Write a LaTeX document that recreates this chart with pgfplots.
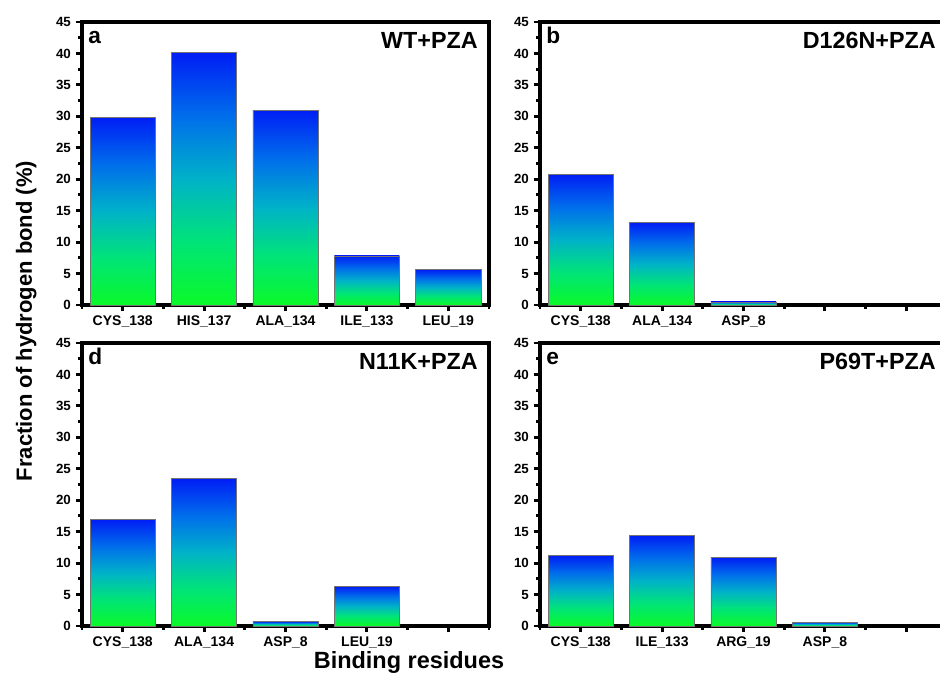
\documentclass[border=0pt]{standalone}
\usepackage{fontspec}
\setmainfont{Liberation Sans}
\usepackage{pgfplots}
\pgfplotsset{compat=1.18}

% bar gradient: green at the foot, teal in the middle, blue at the top
\definecolor{gA}{RGB}{10,250,40}
\definecolor{gB}{RGB}{0,228,120}
\definecolor{gC}{RGB}{0,178,200}
\definecolor{gD}{RGB}{0,110,235}
\definecolor{gE}{RGB}{0,30,245}
\pgfdeclareverticalshading{barshade}{100bp}{color(0bp)=(gA); color(25bp)=(gA);
  color(37.5bp)=(gB); color(50bp)=(gC); color(62.5bp)=(gD); color(75bp)=(gE);
  color(100bp)=(gE)}

\pgfplotsset{
  panel/.style={
    scale only axis, width=305.25pt, height=212.25pt, anchor=south west,
    xmin=-0.5, xmax=4.5, ymin=0, ymax=45,
    ytick={0,5,...,45}, minor y tick num=1,
    xtick={0,...,4}, minor xtick={-0.5,0.5,...,4.5},
    tick align=outside, xtick pos=left, ytick pos=left,
    axis line style={line width=2.9pt},
    major tick length=4.8pt, minor tick length=3pt,
    every tick/.append style={black, line width=2.2pt},
    yticklabel style={font=\bfseries\fontsize{10}{11}\selectfont},
    xticklabel style={font=\bfseries\fontsize{10.5}{12}\selectfont},
    /pgf/number format/assume math mode=true,
    ybar, bar width=0.8, bar shift=0pt, clip=false,
  },
  % one \addplot per bar, so every bar gets its own gradient
  bars/.style={ybar, bar shift=0pt, draw=black!55, line width=0.5pt, shading=barshade},
}
\tikzset{
  lett/.style={anchor=base west, inner sep=0pt, xshift=4.5pt, yshift=-16.5pt,
    font=\bfseries\fontsize{17}{18}\selectfont},
  ttl/.style={anchor=base east, inner sep=0pt, xshift=-8.25pt, yshift=-19.75pt,
    font=\bfseries\fontsize{17.5}{18}\selectfont},
}

\begin{document}
\begin{tikzpicture}
\useasboundingbox (0,0) rectangle (705pt,504.75pt);

% a
\begin{axis}[panel, at={(61.5pt,276pt)},
  xticklabels={CYS\_138, HIS\_137, ALA\_134, ILE\_133, LEU\_19}]
\addplot[bars] coordinates {(0,29.8)};
\addplot[bars] coordinates {(1,40.1)};
\addplot[bars] coordinates {(2,31.0)};
\addplot[bars] coordinates {(3,7.8)};
\addplot[bars] coordinates {(4,5.6)};
\node[lett] at (rel axis cs:0,1) {a};
\node[ttl] at (rel axis cs:1,1) {WT+PZA};
\end{axis}

% b
\begin{axis}[panel, at={(405pt,276pt)},
  xticklabels={CYS\_138, ALA\_134, ASP\_8, {}, {}}]
\addplot[bars] coordinates {(0,20.8)};
\addplot[bars] coordinates {(1,13.1)};
\addplot[bars] coordinates {(2,0.5)};
\node[lett] at (rel axis cs:0,1) {b};
\node[ttl] at (rel axis cs:1,1) {D126N+PZA};
\end{axis}

% d
\begin{axis}[panel, at={(61.5pt,35.25pt)},
  xticklabels={CYS\_138, ALA\_134, ASP\_8, LEU\_19, {}}]
\addplot[bars] coordinates {(0,16.9)};
\addplot[bars] coordinates {(1,23.4)};
\addplot[bars] coordinates {(2,0.7)};
\addplot[bars] coordinates {(3,6.3)};
\node[lett] at (rel axis cs:0,1) {d};
\node[ttl] at (rel axis cs:1,1) {N11K+PZA};
\end{axis}

% e
\begin{axis}[panel, at={(405pt,35.25pt)},
  xticklabels={CYS\_138, ILE\_133, ARG\_19, ASP\_8, {}}]
\addplot[bars] coordinates {(0,11.2)};
\addplot[bars] coordinates {(1,14.4)};
\addplot[bars] coordinates {(2,10.9)};
\addplot[bars] coordinates {(3,0.6)};
\node[lett] at (rel axis cs:0,1) {e};
\node[ttl] at (rel axis cs:1,1) {P69T+PZA};
\end{axis}

\node[rotate=90, anchor=base, inner sep=0pt, font=\bfseries\fontsize{16.5}{18}\selectfont]
  at (24pt,264pt) {Fraction of hydrogen bond (\%)};
\node[anchor=base, inner sep=0pt, font=\bfseries\fontsize{17.6}{19}\selectfont]
  at (306.75pt,3pt) {Binding residues};
\end{tikzpicture}
\end{document}
